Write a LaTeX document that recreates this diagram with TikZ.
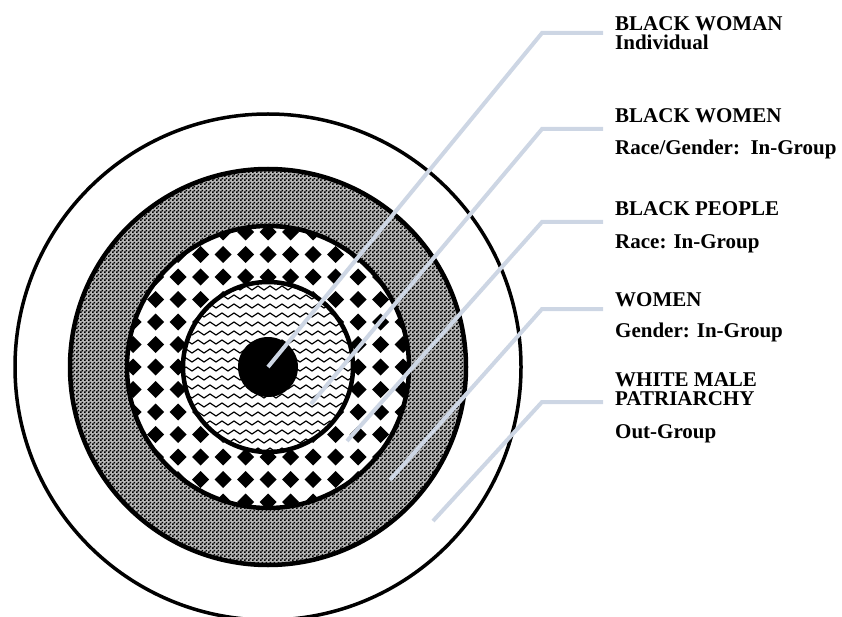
\documentclass[tikz,border=0pt]{standalone}
\usepackage{fontspec}
\setmainfont{Liberation Serif}
\usetikzlibrary{patterns}
\definecolor{leadblue}{RGB}{205,214,228}
\pgfdeclarepatternformonly{finechecks}{\pgfpointorigin}{\pgfpoint{4pt}{4pt}}{\pgfpoint{4pt}{4pt}}{%
  \pgfpathrectangle{\pgfpointorigin}{\pgfpoint{2pt}{2pt}}%
  \pgfpathrectangle{\pgfpoint{2pt}{2pt}}{\pgfpoint{2pt}{2pt}}%
  \pgfusepath{fill}}

\begin{document}
\begin{tikzpicture}[x=1pt,y=-1pt,
  ring/.style={draw=black,line width=4.5pt},
  leader/.style={draw=leadblue,line width=4pt,shorten >=12pt},
  lbl/.style={anchor=north west,inner sep=0pt,align=left,font=\fontsize{21}{19.5}\selectfont\bfseries}]
\useasboundingbox (0,0) rectangle (842,617);
\coordinate (c) at (268,367);
% outer white ring and checkered ring
\draw[line width=3.5pt,fill=white] (c) circle[radius=253];
\fill[black!28] (c) circle[radius=198];
\fill[pattern=finechecks] (c) circle[radius=198];
% diamond ring
\fill[white] (c) circle[radius=141];
\begin{scope}
  \clip (c) circle[radius=141];
  \foreach \i in {-7,...,7}
    \foreach \j in {-7,...,7}
      \fill ({268+22.5*\i-8.5},{367+22.5*\j}) -- ++(8.5,-8.5) -- ++(8.5,8.5) -- ++(-8.5,8.5) -- cycle;
\end{scope}
% wavy disc
\fill[white] (c) circle[radius=85];
\begin{scope}
  \clip (c) circle[radius=85];
  \foreach \k in {0,...,19}
    \draw[line width=1.2pt] (180,{281+9*\k}) \foreach \m in {1,...,15}{ -- ++(6,-4) -- ++(6,4)};
\end{scope}
\fill (c) circle[radius=30];
\draw[ring] (c) circle[radius=198];
\draw[ring] (c) circle[radius=141];
\draw[ring] (c) circle[radius=85];

% labels
\node[lbl] (l1) at (615,16)  {BLACK WOMAN\\Individual};
\node[lbl] (l2) at (615,108) {BLACK WOMEN\\[13pt]Race/Gender:\ \ In-Group};
\node[lbl] (l3) at (615,201) {BLACK PEOPLE\\[14pt]Race: In-Group};
\node[lbl] (l4) at (615,292) {WOMEN\\[12pt]Gender: In-Group};
\node[lbl] (l5) at (615,372) {WHITE MALE\\PATRIARCHY\\[13pt]Out-Group};

% leader lines
\coordinate (d1) at (c);
\coordinate (d2) at (311,404);
\coordinate (d3) at (347,441);
\coordinate (d4) at (390,480);
\coordinate (d5) at (433,521);
\coordinate (b1) at (542,33);
\coordinate (b2) at (542,129);
\coordinate (b3) at (542,222);
\coordinate (b4) at (542,309);
\coordinate (b5) at (542,402);
\foreach \n in {1,...,5}
  \draw[leader] (d\n) -- (b\n) -- (b\n -| l\n.west);
\end{tikzpicture}
\end{document}
